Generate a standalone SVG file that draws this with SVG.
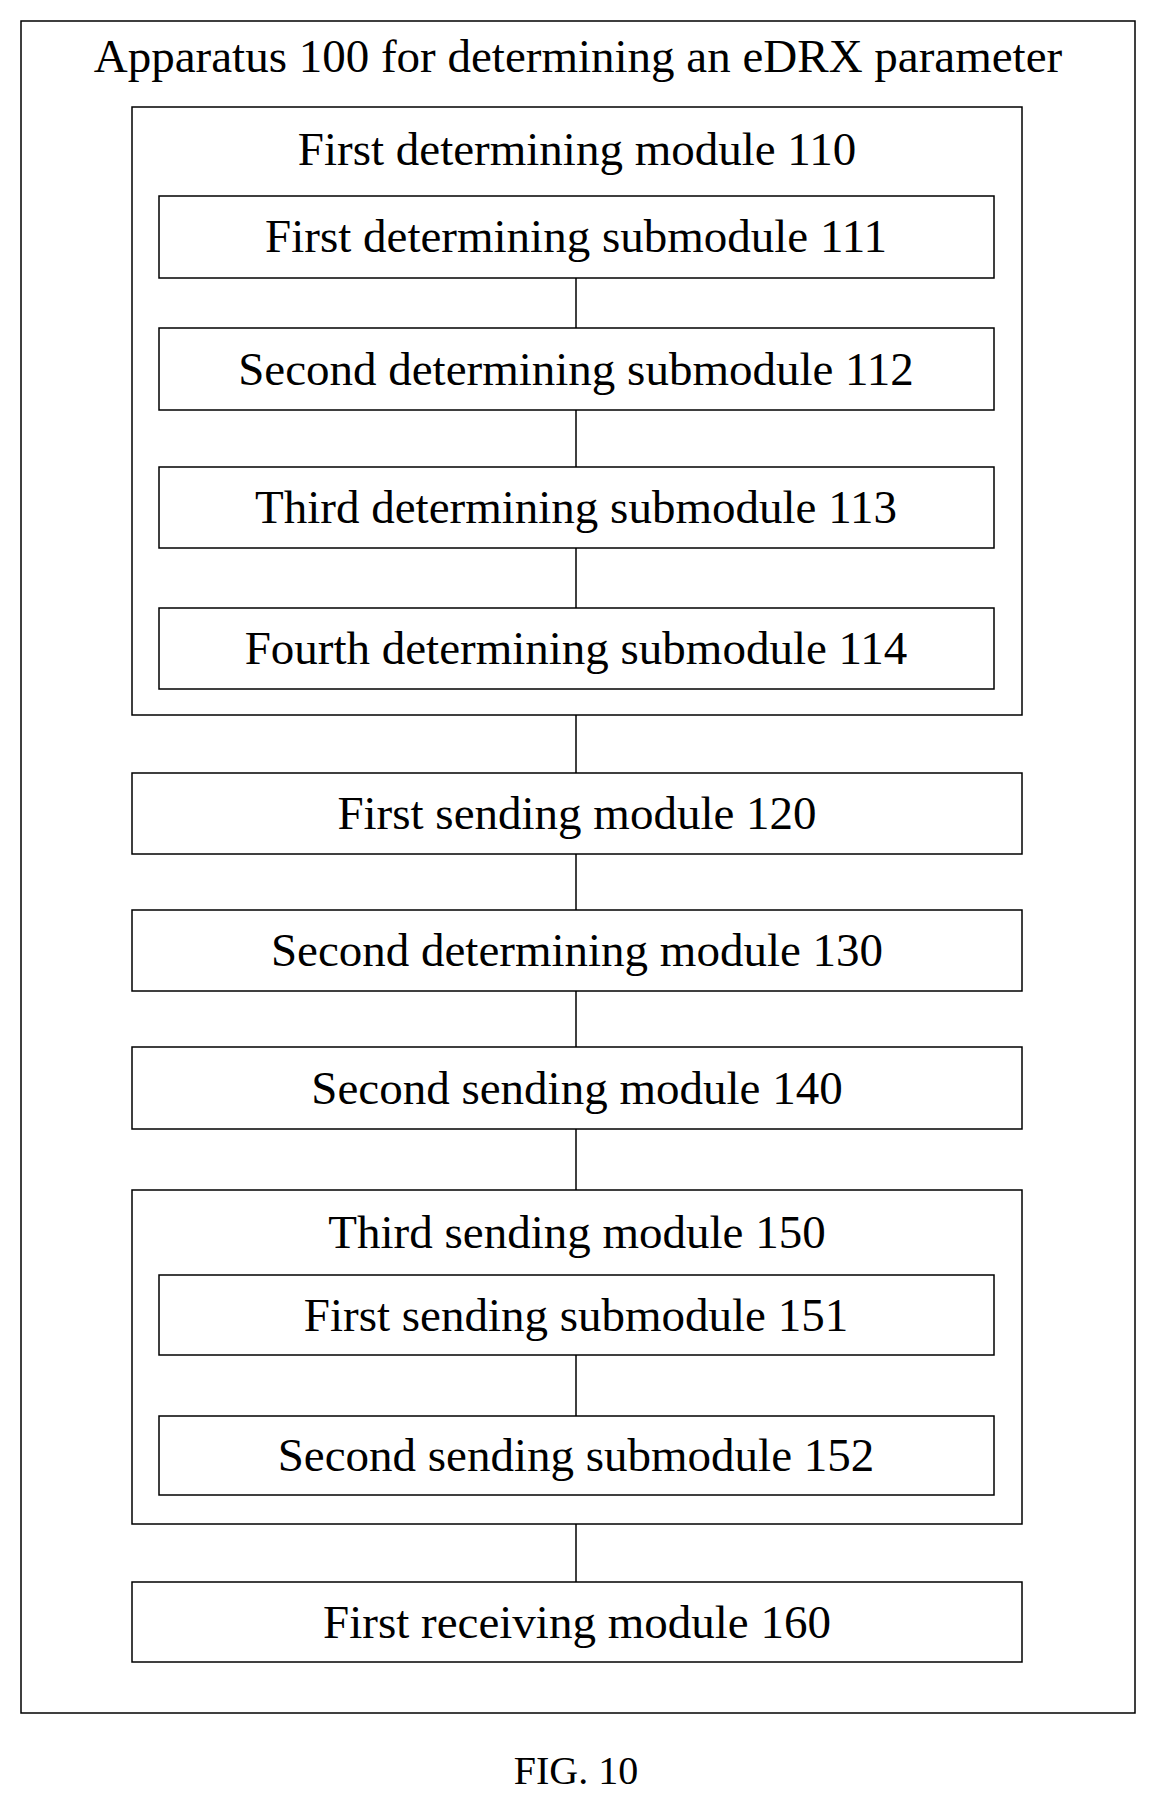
<svg xmlns="http://www.w3.org/2000/svg" width="1152" height="1802" viewBox="0 0 1152 1802">
<style>
rect{fill:#fff;stroke:#000;stroke-width:1.5}
text{font-family:"Liberation Serif",serif;font-size:47px;text-anchor:middle;fill:#000}
line{stroke:#000;stroke-width:1.5}
</style>
<rect x="0" y="0" width="1152" height="1802" style="stroke:none"/>
<g id="outer"><rect x="21" y="21" width="1114" height="1692"/><text x="578" y="72">Apparatus 100 for determining an eDRX parameter</text></g>
<g id="m110"><rect x="132" y="107" width="890" height="608"/><text x="577" y="165">First determining module 110</text></g>
<g id="s111"><rect x="159" y="196" width="835" height="82"/><text x="576" y="252">First determining submodule 111</text></g>
<g id="s112"><rect x="159" y="328" width="835" height="82"/><text x="576" y="385">Second determining submodule 112</text></g>
<g id="s113"><rect x="159" y="467" width="835" height="81"/><text x="576" y="523">Third determining submodule 113</text></g>
<g id="s114"><rect x="159" y="608" width="835" height="81"/><text x="576" y="664">Fourth determining submodule 114</text></g>
<g id="m120"><rect x="132" y="773" width="890" height="81"/><text x="577" y="829">First sending module 120</text></g>
<g id="m130"><rect x="132" y="910" width="890" height="81"/><text x="577" y="966">Second determining module 130</text></g>
<g id="m140"><rect x="132" y="1047" width="890" height="82"/><text x="577" y="1104">Second sending module 140</text></g>
<g id="m150"><rect x="132" y="1190" width="890" height="334"/><text x="577" y="1248">Third sending module 150</text></g>
<g id="s151"><rect x="159" y="1275" width="835" height="80"/><text x="576" y="1331">First sending submodule 151</text></g>
<g id="s152"><rect x="159" y="1416" width="835" height="79"/><text x="576" y="1471">Second sending submodule 152</text></g>
<g id="m160"><rect x="132" y="1582" width="890" height="80"/><text x="577" y="1638">First receiving module 160</text></g>
<g id="connectors">
<line x1="576" y1="278" x2="576" y2="328"/>
<line x1="576" y1="410" x2="576" y2="467"/>
<line x1="576" y1="548" x2="576" y2="608"/>
<line x1="576" y1="715" x2="576" y2="773"/>
<line x1="576" y1="854" x2="576" y2="910"/>
<line x1="576" y1="991" x2="576" y2="1047"/>
<line x1="576" y1="1129" x2="576" y2="1190"/>
<line x1="576" y1="1355" x2="576" y2="1416"/>
<line x1="576" y1="1524" x2="576" y2="1582"/>
</g>
<text x="576" y="1784" style="font-size:40px">FIG. 10</text>
</svg>
